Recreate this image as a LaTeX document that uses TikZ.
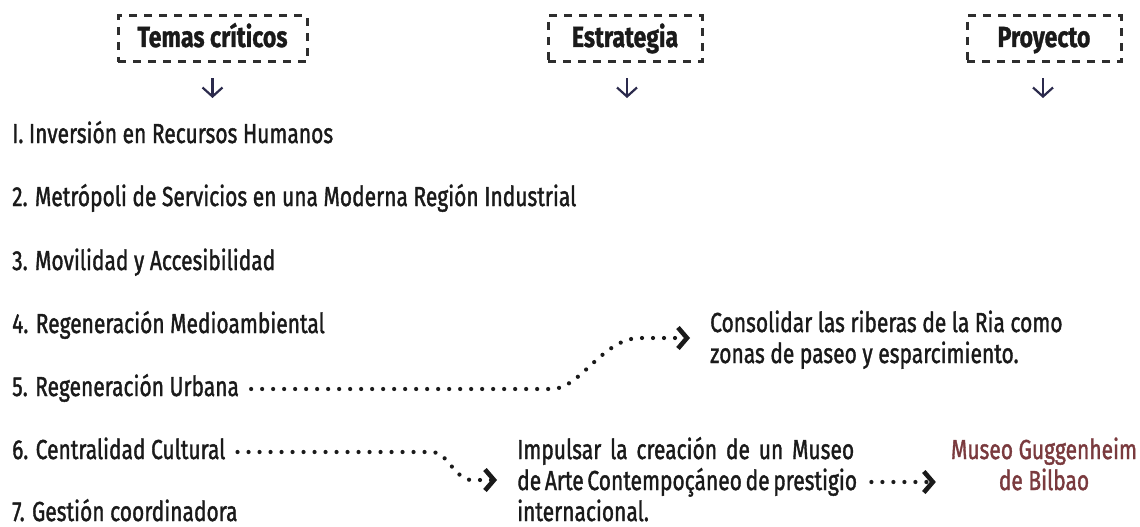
\documentclass[tikz,border=0pt]{standalone}
\usepackage{fontspec}
\usepackage{graphicx}
\setmainfont{Fira Sans}
\newfontfamily\bodyfam{Fira Sans}[FakeBold=1.6]
\newfontfamily\hdrfam{Fira Sans Bold}[FakeBold=1.2]
\usetikzlibrary{arrows.meta}
\definecolor{ink}{HTML}{1A1A1A}
\definecolor{boxink}{HTML}{2E2E2E}
\definecolor{navy}{HTML}{2B2A4C}
\definecolor{museo}{RGB}{122,58,62}
\newlength\measw
\newcommand\bodyfont{\bodyfam\fontsize{27.5}{30}\selectfont}
\newcommand\hdrfont{\hdrfam\fontsize{29}{32}\selectfont}
\newcommand\btxt[1]{\scalebox{\bodyr}[1]{\bodyfont #1}}
\newcommand\htxt[1]{\scalebox{\hdrr}[1]{\hdrfont #1}}
\newcommand\jtxt[2]{\scalebox{\bodyr}[1]{\bodyfont\pgfmathsetlengthmacro\jwn{#1/\bodyr}\makebox[\jwn][s]{#2}}}
\tikzset{
  lbl/.style={anchor=base west, inner sep=0pt, text=ink},
  clbl/.style={anchor=base, inner sep=0pt, text=museo},
  hlbl/.style={anchor=base, inner sep=0pt, text=ink},
  hdrbox/.style={draw=boxink, line width=3pt, dash pattern=on 8pt off 7pt, minimum height=46pt, inner sep=0pt},
  downarr/.style={draw=navy, line width=2.2pt, -{Straight Barb[length=9pt,width=20pt]}},
  dotconn/.style={draw=ink, line width=4.2pt, line cap=round, dash pattern=on 0pt off 11pt,
    -{Straight Barb[length=9pt,width=21pt,line width=4.6pt]}}
}
\begin{document}
\settowidth\measw{\bodyfont I. Inversión en Recursos Humanos}%
\pgfmathsetmacro\bodyr{321/\measw}%
\settowidth\measw{\hdrfont Temas críticos}%
\pgfmathsetmacro\hdrr{150/\measw}%
\begin{tikzpicture}[x=1pt,y=-1pt]
\fill[white] (0,0) rectangle (1140,527);
\useasboundingbox (0,0) rectangle (1140,527);
% headers
\node[hdrbox, minimum width=189pt] (h1) at (212.5,39) {};
\node[hdrbox, minimum width=154pt] (h2) at (625,39) {};
\node[hdrbox, minimum width=154pt] (h3) at (1044,39) {};
\node[hlbl] (h1t) at (212.5,47) {\htxt{Temas críticos}};
\node[hlbl] (h2t) at (625,47) {\htxt{Estrategia}};
\node[hlbl] (h3t) at (1044,47) {\htxt{Proyecto}};
\coordinate (a1s) at (212.5,78);
\coordinate (a1e) at (212.5,98);
\coordinate (a2s) at (627,78);
\coordinate (a2e) at (627,98);
\coordinate (a3s) at (1043,78);
\coordinate (a3e) at (1043,98);
\draw[downarr] (a1s) -- (a1e);
\draw[downarr] (a2s) -- (a2e);
\draw[downarr] (a3s) -- (a3e);
% themes
\node[lbl] (r1) at (12,143) {\btxt{I. Inversión en Recursos Humanos}};
\node[lbl] (r2) at (12,206) {\btxt{2. Metrópoli de Servicios en una Moderna Región Industrial}};
\node[lbl] (r3) at (12,270) {\btxt{3. Movilidad y Accesibilidad}};
\node[lbl] (r4) at (12,333) {\btxt{4. Regeneración Medioambiental}};
\node[lbl] (r5) at (12,396) {\btxt{5. Regeneración Urbana}};
\node[lbl] (r6) at (12,459) {\btxt{6. Centralidad Cultural}};
\node[lbl] (r7) at (12,521) {\btxt{7. Gestión coordinadora}};
% strategies
\node[lbl] (c1) at (710,332) {\btxt{Consolidar las riberas de la Ria como}};
\node[lbl] (c2) at (710,363) {\btxt{zonas de paseo y esparcimiento.}};
\node[lbl] (i1) at (517,459) {\jtxt{337}{Impulsar la creación de un Museo}};
\node[lbl] (i2) at (517,490) {\jtxt{337}{de Arte Contempoçáneo de prestigio}};
\node[lbl] (i3) at (517,521) {\btxt{internacional.}};
% project
\node[clbl] (m1) at (1044,459) {\btxt{Museo Guggenheim}};
\node[clbl] (m2) at (1044,490) {\btxt{de Bilbao}};
% connectors
\draw[dotconn] ([shift={(12,-7)}]r5.base east) -- (552,389)
  .. controls (580,389) and (603,338) .. (640,338) -- ([shift={(-20,6)}]c1.base west);
\draw[dotconn] ([shift={(12,-7)}]r6.base east) -- (433,452)
  .. controls (447,452) and (455,480) .. (472,480) -- ([shift={(-20,-10)}]i2.base west);
\draw[dotconn] ([shift={(17,-8)}]i2.base east) -- ([shift={(-15,23)}]m1.base west);
\end{tikzpicture}
\end{document}
